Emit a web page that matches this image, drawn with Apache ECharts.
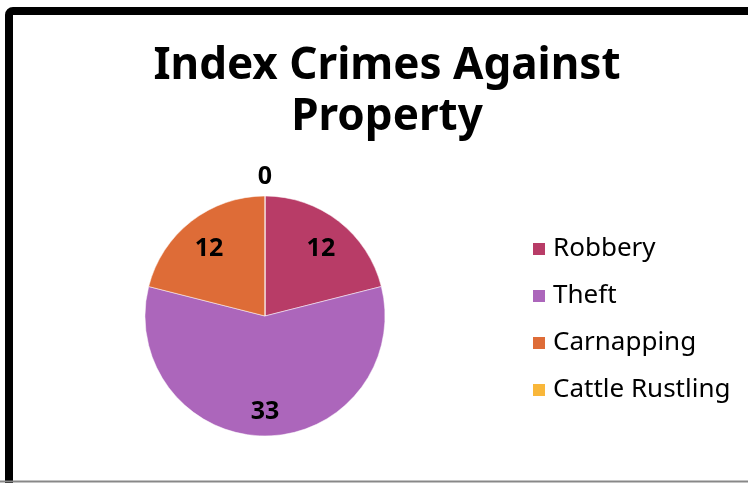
<!DOCTYPE html>
<html>
<head>
<meta charset="utf-8">
<script src="https://cdn.jsdelivr.net/npm/echarts@6/dist/echarts.min.js"></script>
<style>
html,body{margin:0;padding:0;background:#fff;}
#chart{width:748px;height:483px;}
</style>
</head>
<body>
<div id="chart"></div>
<script>
const titleText = 'Index Crimes Against\nProperty';
const categories = ['Robbery', 'Theft', 'Carnapping', 'Cattle Rustling'];
const values = [12, 33, 12, 0];
const colors = ['#B83C67', '#AC66BB', '#DE6C37', '#F9B73A'];

const chart = echarts.init(document.getElementById('chart'));
const FONT = 'Noto Sans';
const pieData = categories.map((c, i) => ({ name: c, value: values[i], itemStyle: { color: colors[i] } }));
const labelData = categories.map((c, i) => {
  const d = { name: c, value: values[i], itemStyle: { color: 'rgba(0,0,0,0)' } };
  if (values[i] === 0) d.label = { offset: [0, -48] };
  return d;
});

chart.setOption({
  animation: false,
  title: {
    text: titleText,
    left: 382,
    top: 36,
    textAlign: 'center',
    textStyle: { fontFamily: FONT, fontWeight: 'bold', fontSize: 44, lineHeight: 51, color: '#000' }
  },
  legend: {
    orient: 'vertical',
    left: 531,
    top: 236,
    padding: 0,
    itemWidth: 14,
    itemHeight: 14,
    itemGap: 21,
    icon: 'rect',
    data: categories,
    textStyle: { fontFamily: FONT, fontSize: 26, color: '#000', padding: [0, 0, 0, 2] },
    selectedMode: false
  },
  graphic: [
    { type: 'rect', shape: { x: 9, y: 11, width: 760, height: 520, r: 4 }, style: { fill: 'none', stroke: '#000', lineWidth: 8 }, z: 10 },
    { type: 'line', shape: { x1: 0, y1: 481.5, x2: 748, y2: 481.5 }, style: { stroke: '#888', lineWidth: 2 }, z: 11 }
  ],
  series: [
    {
      type: 'pie',
      center: [265, 316],
      radius: [0, 120],
      startAngle: 90,
      clockwise: true,
      silent: true,
      label: { show: false },
      labelLine: { show: false },
      itemStyle: { borderColor: '#fff', borderWidth: 0.5 },
      data: pieData
    },
    {
      type: 'pie',
      center: [265, 316],
      radius: [56, 120],
      startAngle: 90,
      clockwise: true,
      silent: true,
      legendHoverLink: false,
      label: { show: true, position: 'inside', formatter: '{c}', offset: [0, 5], fontFamily: FONT, fontWeight: 'bold', fontSize: 25, color: '#000' },
      labelLine: { show: false },
      data: labelData
    }
  ]
});
</script>
</body>
</html>
